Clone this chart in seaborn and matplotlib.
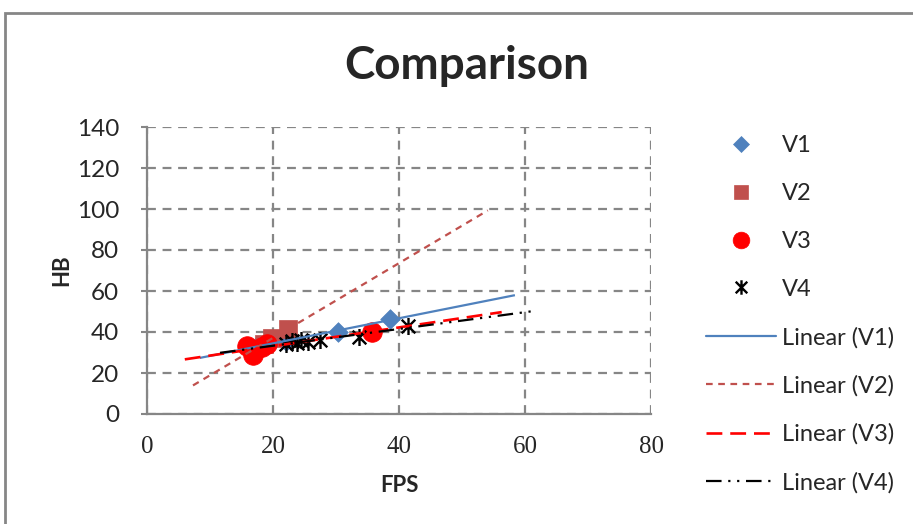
import numpy as np
import matplotlib
matplotlib.use("Agg")
import matplotlib.pyplot as plt
from matplotlib.path import Path
from matplotlib.patches import Rectangle
from matplotlib.lines import Line2D
import seaborn as sns

sns.set_style("white")
plt.rcParams["font.family"] = ["Lato", "DejaVu Sans"]

# Series values (FPS, HB)
v1_x = [17.5, 19.5, 22.0, 30.3, 38.6]
v1_y = [33.0, 34.5, 35.5, 40.2, 46.2]
v2_x = [18.5, 19.8, 22.4]
v2_y = [34.2, 37.0, 41.4]
v3_x = [15.8, 16.8, 17.2, 18.3, 19.0, 35.7]
v3_y = [33.0, 29.0, 31.0, 32.5, 34.0, 40.2]
v4_x = [22.0, 23.0, 23.8, 24.5, 25.5, 27.5, 33.7, 41.5]
v4_y = [34.0, 35.5, 34.5, 36.0, 35.0, 36.0, 37.5, 43.0]

series_names = ["V1", "V2", "V3", "V4"]
# Extent (FPS) over which each linear trend is drawn
trend_ranges = [(8.4, 58.4), (7.3, 54.1), (6.0, 56.3), (11.6, 61.6)]

x_ticks = [0, 20, 40, 60, 80]
y_ticks = [0, 20, 40, 60, 80, 100, 120, 140]

W, H = 913, 524
fig = plt.figure(figsize=(W / 100, H / 100), dpi=100)
ax = fig.add_axes([147 / W, 1 - 414 / H, (651 - 147) / W, (414 - 127) / H])

grey = "#868686"
blue = "#4F81BD"
brick = "#C0504D"
red = "#FF0000"

# Star marker: an X with a vertical bar
star = Path(
    [(-1, -1), (1, 1), (-1, 1), (1, -1), (0, -1.25), (0, 1.25)],
    [Path.MOVETO, Path.LINETO, Path.MOVETO, Path.LINETO, Path.MOVETO, Path.LINETO],
)

xs = [v1_x, v2_x, v3_x, v4_x]
ys = [v1_y, v2_y, v3_y, v4_y]
marker_styles = [
    dict(marker="D", color=blue, s=100, edgecolor=blue, linewidth=0.5),
    dict(marker="s", color=brick, s=160, edgecolor=brick, linewidth=0.5),
    dict(marker="o", color=red, s=200, edgecolor=red, linewidth=0.5),
    dict(marker=star, color="black", s=150, edgecolor="black", linewidth=1.7),
]
for x, y, name, st in zip(xs, ys, series_names, marker_styles):
    sns.scatterplot(x=x, y=y, ax=ax, zorder=3, legend=False, **st)

# Least-squares trend lines
line_styles = [
    dict(color=blue, lw=1.6, linestyle="-"),
    dict(color=brick, lw=1.6, linestyle=(0, (3, 2.5))),
    dict(color=red, lw=1.9, linestyle=(0, (6, 3))),
    dict(color="black", lw=1.6, linestyle=(0, (7, 3, 1, 3, 1, 3))),
]
for x, y, (a, b), st in zip(xs, ys, trend_ranges, line_styles):
    slope, icpt = np.polyfit(x, y, 1)
    tx = np.array([a, b])
    ax.plot(tx, slope * tx + icpt, zorder=4, solid_capstyle="butt", **st)

ax.set_xlim(0, 80)
ax.set_ylim(0, 140)
ax.set_xticks(x_ticks)
ax.set_yticks(y_ticks)
ax.set_xticklabels([str(t) for t in x_ticks], family=["Liberation Serif"], fontsize=18)
ax.set_yticklabels([str(t) for t in y_ticks], fontsize=17.5)
ax.tick_params(axis="x", length=0, pad=16)
ax.tick_params(axis="y", length=4, width=1.5, color=grey, pad=16, direction="out", left=True)

ax.grid(True, color=grey, linestyle=(0, (4, 3)), linewidth=1.6)
ax.set_axisbelow(True)
for side in ["top", "right"]:
    ax.spines[side].set_visible(False)
for side in ["left", "bottom"]:
    ax.spines[side].set_color(grey)
    ax.spines[side].set_linewidth(1.6)

ax.set_xlabel("FPS", fontsize=16, fontweight="bold")
ax.set_ylabel("HB", fontsize=16, fontweight="bold")
ax.xaxis.set_label_coords(0.5, (414 - 475) / 287)
ax.yaxis.set_label_coords((72 - 147) / 504, 0.5)

fig.text(467 / W, 1 - 66 / H, "Comparison", ha="center", va="center",
         fontsize=33, fontweight="bold")

# Outer chart frame
fig.patches.append(Rectangle((5 / W, -0.1), 1.2, 1 - 13 / H + 0.1,
                             transform=fig.transFigure, fill=False,
                             edgecolor=grey, linewidth=2))

handles = []
for st in marker_styles:
    handles.append(Line2D([], [], linestyle="none", marker=st["marker"],
                          color=st["color"], markersize=np.sqrt(st["s"]) * 0.85,
                          markeredgewidth=st.get("linewidth", 0.5)))
for st in line_styles:
    handles.append(Line2D([], [], **st))
labels = series_names + [f"Linear ({n})" for n in series_names]
fig.legend(handles, labels, loc="upper left", bbox_to_anchor=(706 / W, 1 - 135 / H),
           frameon=False, fontsize=17, handlelength=2.95, handletextpad=0.25,
           labelspacing=1.14, borderpad=0, borderaxespad=0)

fig.savefig("out.png", dpi=100)
